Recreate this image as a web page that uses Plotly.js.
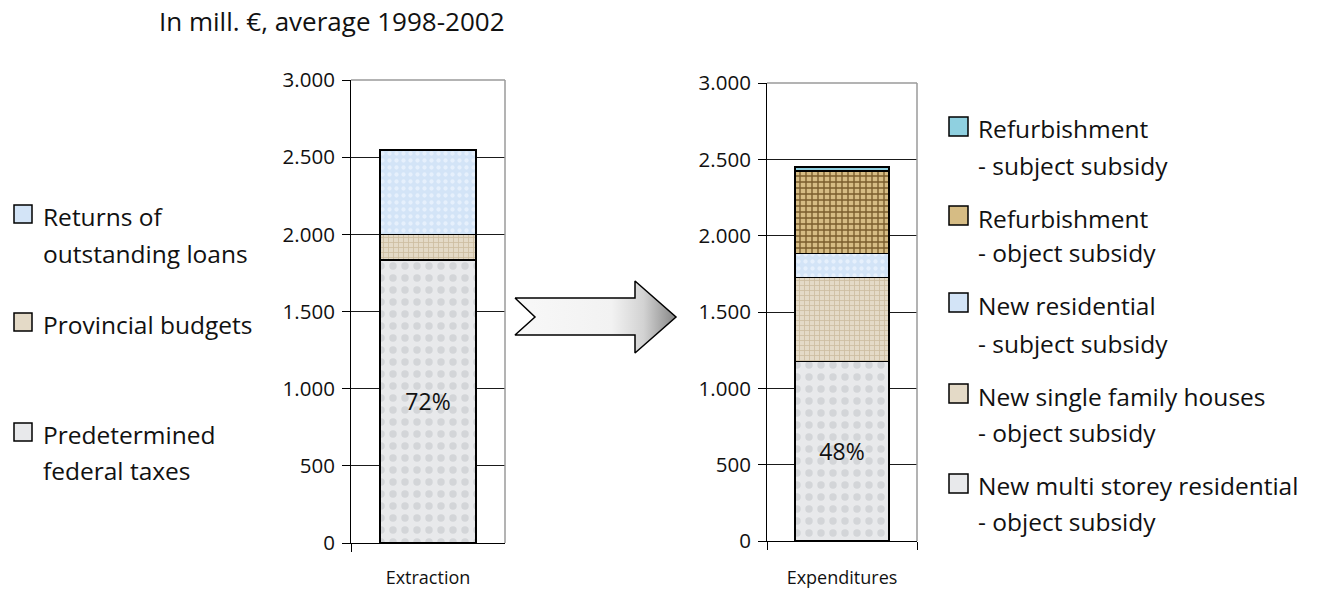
<!DOCTYPE html>
<html>
<head>
<meta charset="utf-8">
<script src="https://cdn.plot.ly/plotly-3.0.1.min.js"></script>
<style>html,body{margin:0;padding:0;background:#fff;}#chart{width:1317px;height:593px;}</style>
</head>
<body>
<div id="chart"></div>
<script>
// ---- data ----
const catLeft = ['Extraction'];
const catRight = ['Expenditures'];
const federalTaxes = [1835];
const provincialBudgets = [165];
const returnsLoans = [547];
const newMulti = [1175];
const newSingle = [552];
const newResSubject = [157];
const refurbObject = [540];
const refurbSubject = [27];
const leftLabels = ['Predetermined federal taxes', 'Provincial budgets', 'Returns of outstanding loans'];
const rightLabels = ['New multi storey residential - object subsidy', 'New single family houses - object subsidy',
  'New residential - subject subsidy', 'Refurbishment - object subsidy', 'Refurbishment - subject subsidy'];
const titleText = 'In mill. €, average 1998-2002';

const W = 1317, H = 593;
const FONT = 'Open Sans';
const px = x => x / W;
const py = y => 1 - y / H;

const styles = {
  marble: {color: '#e5e6e8', pattern: {shape: '.', fgcolor: '#d3d5d8', bgcolor: '#e8e9eb', size: 12, solidity: 0.3, fillmode: 'replace'}},
  blue: {color: '#d6e6f8', pattern: {shape: '.', fgcolor: '#e6f0fc', bgcolor: '#d3e4f7', size: 7, solidity: 0.3, fillmode: 'replace'}},
  beige: {color: '#ddd1bb', pattern: {shape: '+', fgcolor: '#cdbd9f', bgcolor: '#e4dac7', size: 5, solidity: 0.3, fillmode: 'replace'}},
  brown: {color: '#b89a60', pattern: {shape: '+', fgcolor: '#7a5c2c', bgcolor: '#d6bc84', size: 6, solidity: 0.4, fillmode: 'replace'}},
  cyan: {color: '#8fd0e0', pattern: {shape: '', fgcolor: '#8fd0e0', bgcolor: '#8fd0e0'}}
};

function total(arrs) { return arrs.reduce((s, a) => s + a[0], 0); }
const totLeft = total([federalTaxes, provincialBudgets, returnsLoans]);
const totRight = total([newMulti, newSingle, newResSubject, refurbObject, refurbSubject]);

function bar(x, y, name, st, xa, ya, w, text) {
  return {
    type: 'bar', x: x, y: y, name: name, xaxis: xa, yaxis: ya, width: w,
    marker: {color: st.color, pattern: st.pattern, line: {color: '#000', width: 1.6}},
    text: text ? text : undefined, textposition: text ? 'inside' : 'none',
    insidetextanchor: 'middle', textangle: 0,
    textfont: {family: FONT, size: 23, color: '#111'},
    hoverinfo: 'name+y', showlegend: false
  };
}

const traces = [
  bar(catLeft, federalTaxes, leftLabels[0], styles.marble, 'x', 'y', 0.62, [Math.round(federalTaxes[0] / totLeft * 100) + '%']),
  bar(catLeft, provincialBudgets, leftLabels[1], styles.beige, 'x', 'y', 0.62),
  bar(catLeft, returnsLoans, leftLabels[2], styles.blue, 'x', 'y', 0.62),
  bar(catRight, newMulti, rightLabels[0], styles.marble, 'x2', 'y2', 0.63, [Math.round(newMulti[0] / totRight * 100) + '%']),
  bar(catRight, newSingle, rightLabels[1], styles.beige, 'x2', 'y2', 0.63),
  bar(catRight, newResSubject, rightLabels[2], styles.blue, 'x2', 'y2', 0.63),
  bar(catRight, refurbObject, rightLabels[3], styles.brown, 'x2', 'y2', 0.63),
  bar(catRight, refurbSubject, rightLabels[4], styles.cyan, 'x2', 'y2', 0.63)
];

// decorative arrow (pixel space overlay)
traces.push({
  type: 'scatter', mode: 'lines', xaxis: 'x3', yaxis: 'y3', hoverinfo: 'skip', showlegend: false,
  x: [515, 635, 635, 676, 635, 635, 515, 535, 515],
  y: [298, 298, 281, 317, 353, 335, 335, 317, 298],
  fill: 'toself', line: {color: '#000', width: 1.5},
  fillcolor: '#eeeeee',
  fillgradient: {type: 'horizontal', colorscale: [[0, '#f8f8f8'], [0.6, '#f2f2f2'], [0.8, '#d2d2d2'], [1, '#858585']]}
});

function yaxisDef(domain) {
  return {
    domain: domain, range: [0, 3000], tickvals: [0, 500, 1000, 1500, 2000, 2500, 3000], tickformat: ',d',
    showgrid: true, gridcolor: '#1a1a1a', gridwidth: 1, zeroline: false,
    showline: true, linecolor: '#000', linewidth: 1, ticks: 'outside', ticklen: 8, tickcolor: '#000',
    tickfont: {family: FONT, size: 20.5, color: '#111'}, ticklabelstandoff: 3, fixedrange: true
  };
}
function xaxisDef(domain, anchor, standoff) {
  return {
    domain: domain, anchor: anchor, type: 'category', tickson: 'boundaries', ticks: 'outside', ticklen: 8,
    tickcolor: '#000', showline: true, linecolor: '#000', linewidth: 1, showgrid: false,
    tickfont: {family: FONT, size: 18, color: '#111'}, ticklabelstandoff: standoff, fixedrange: true
  };
}

const annotations = [
  {text: titleText, xref: 'paper', yref: 'paper', x: px(157), y: py(21), xanchor: 'left', yanchor: 'middle',
   showarrow: false, font: {family: FONT, size: 26, color: '#111'}}
];
const shapes = [];
function legendLine(text, x, yc) {
  annotations.push({text: text, xref: 'paper', yref: 'paper', x: px(x), y: py(yc + 2), xanchor: 'left', yanchor: 'middle',
    showarrow: false, font: {family: FONT, size: 24.5, color: '#111'}});
}
function swatch(x0, y0, size, st) {
  shapes.push({type: 'rect', xref: 'paper', yref: 'paper', x0: px(x0), x1: px(x0 + size), y0: py(y0 + size), y1: py(y0),
    fillcolor: st.pattern && st.pattern.bgcolor ? st.pattern.bgcolor : st.color, line: {color: '#000', width: 1.5}});
}
// left legend
swatch(14, 205, 18, styles.blue);
legendLine('Returns of', 41, 214);
legendLine('outstanding loans', 41, 251);
swatch(14, 313, 18, styles.beige);
legendLine('Provincial budgets', 41, 322);
swatch(14, 423, 18, styles.marble);
legendLine('Predetermined', 41, 432);
legendLine('federal taxes', 41, 469);
// right legend
const rl = [
  [styles.cyan, 'Refurbishment', '- subject subsidy', 117, 126, 163],
  [styles.brown, 'Refurbishment', '- object subsidy', 206, 216, 250],
  [styles.blue, 'New residential', '- subject subsidy', 293, 303, 341],
  [styles.beige, 'New single family houses', '- object subsidy', 384, 394, 430],
  [styles.marble, 'New multi storey residential', '- object subsidy', 474, 484, 519]
];
rl.forEach(r => { swatch(949, r[3], 19, r[0]); legendLine(r[1], 976, r[4]); legendLine(r[2], 976, r[5]); });

// grey top/right frame
['x', 'x2'].forEach((xa, i) => {
  const ya = i === 0 ? 'y' : 'y2';
  shapes.push({type: 'line', xref: xa + ' domain', yref: ya + ' domain', x0: 0, x1: 1, y0: 1, y1: 1, line: {color: '#9a9a9a', width: 1.5}});
  shapes.push({type: 'line', xref: xa + ' domain', yref: ya + ' domain', x0: 1, x1: 1, y0: 0, y1: 1, line: {color: '#9a9a9a', width: 1.5}});
});

const layout = {
  width: W, height: H, margin: {l: 0, r: 0, t: 0, b: 0}, paper_bgcolor: '#fff', plot_bgcolor: 'rgba(0,0,0,0)',
  barmode: 'stack', separators: ',.', showlegend: false,
  font: {family: FONT, color: '#111'},
  xaxis: xaxisDef([px(351), px(505)], 'y', 18),
  yaxis: yaxisDef([py(543), py(80)]),
  xaxis2: xaxisDef([px(767), px(917)], 'y2', 20),
  yaxis2: Object.assign(yaxisDef([py(541), py(83)]), {anchor: 'x2'}),
  xaxis3: {domain: [0, 1], range: [0, W], visible: false, anchor: 'y3', fixedrange: true},
  yaxis3: {domain: [0, 1], range: [H, 0], visible: false, anchor: 'x3', fixedrange: true},
  annotations: annotations, shapes: shapes
};
layout.yaxis.anchor = 'x';

Plotly.newPlot('chart', traces, layout, {displayModeBar: false, staticPlot: true});
</script>
</body>
</html>
